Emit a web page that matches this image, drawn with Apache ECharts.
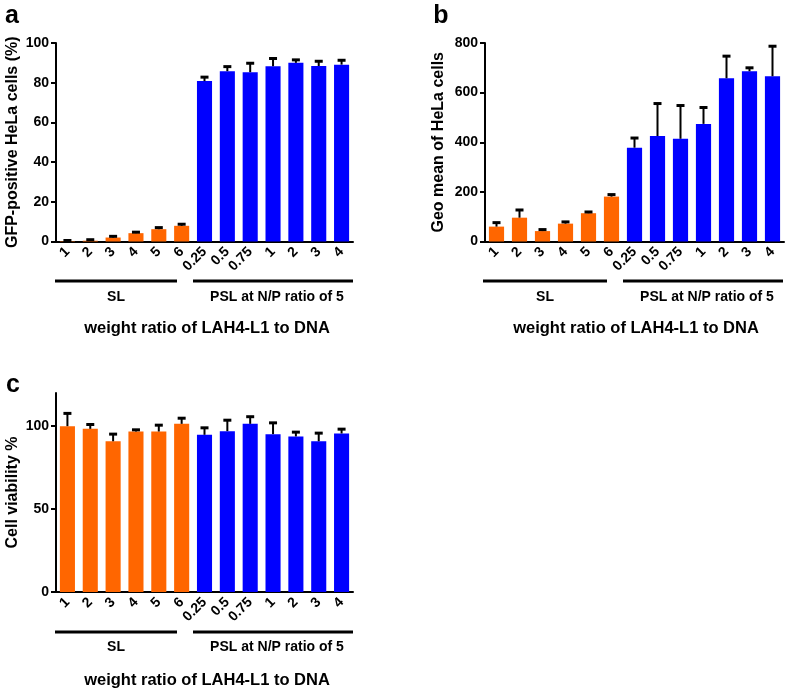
<!DOCTYPE html>
<html><head><meta charset="utf-8">
<script src="https://cdn.jsdelivr.net/npm/echarts@6/dist/echarts.min.js"></script>
<style>html,body{margin:0;padding:0;background:#fff}#c{width:787px;height:690px}</style>
</head><body><div id="c"></div>
<script>
const categories = ['1','2','3','4','5','6','0.25','0.5','0.75','1','2','3','4'];
const slCount = 6;
const gfpMean = [0.2, 0.4, 2.0, 4.2, 6.2, 7.9, 80.8, 85.8, 85.3, 88.3, 90.0, 88.4, 89.1];
const gfpErr  = [0.3, 0.5, 0.6, 0.5, 0.8, 0.8, 2.0, 2.3, 4.5, 3.9, 1.5, 2.4, 2.2];
const geoMean = [60, 96, 42, 72, 114, 181, 378, 425, 414, 474, 658, 686, 666];
const geoErr  = [16, 31, 6, 7, 5, 8, 39, 131, 134, 66, 89, 14, 121];
const viaMean = [100, 98.4, 90.9, 96.8, 96.8, 101.4, 94.8, 97, 101.4, 95.2, 93.8, 90.9, 95.6];
const viaErr  = [7.7, 2.6, 4.3, 1.0, 3.8, 3.4, 4.2, 6.6, 4.3, 6.8, 2.6, 4.9, 2.6];
const gfpTicks = [0, 20, 40, 60, 80, 100];
const geoTicks = [0, 200, 400, 600, 800];
const viaTicks = [0, 50, 100];

const FONT = 'Liberation Sans, Arial, Helvetica, sans-serif';
const ORANGE = '#FF6600', BLUE = '#0000FF';
const chart = echarts.init(document.getElementById('c'), null, {renderer:'canvas'});

function xAxis(gi){
  return {type:'category', gridIndex:gi, data:categories,
    axisLine:{lineStyle:{color:'#000', width:2}},
    axisTick:{alignWithLabel:true, length:5, lineStyle:{color:'#000', width:2}},
    axisLabel:{rotate:45, margin:8, color:'#000', fontWeight:'bold', fontSize:14, fontFamily:FONT, interval:0}};
}
function yAxis(gi, name, max, interval, ticks, gap){
  return {type:'value', gridIndex:gi, min:0, max:max, interval:interval, name:name,
    nameLocation:'middle', nameGap:gap, nameRotate:90,
    nameTextStyle:{color:'#000', fontWeight:'bold', fontSize:16, fontFamily:FONT},
    splitLine:{show:false},
    axisLine:{show:true, lineStyle:{color:'#000', width:2}},
    axisTick:{show:true, length:5, lineStyle:{color:'#000', width:2}, customValues:ticks},
    axisLabel:{margin:7, color:'#000', fontWeight:'bold', fontSize:14, fontFamily:FONT, customValues:ticks}};
}
function barSeries(i, vals){
  return {type:'bar', xAxisIndex:i, yAxisIndex:i, data:vals, barCategoryGap:'34%',
    itemStyle:{color:(p)=> p.dataIndex < slCount ? ORANGE : BLUE}};
}
function errSeries(i, vals, errs){
  return {type:'custom', xAxisIndex:i, yAxisIndex:i, z:3,
    data: vals.map((v,k)=>[k, v, v+errs[k]]),
    renderItem:function(params, api){
      const b = api.coord([api.value(0), api.value(1)]);
      const t = api.coord([api.value(0), api.value(2)]);
      return {type:'group', children:[
        {type:'line', shape:{x1:b[0], y1:b[1], x2:t[0], y2:t[1]}, style:{stroke:'#000', lineWidth:2}},
        {type:'line', shape:{x1:t[0]-4, y1:t[1], x2:t[0]+4, y2:t[1]}, style:{stroke:'#000', lineWidth:3}}
      ]};
    }};
}
function txt(x, y, s, size, align){
  return {type:'text', x:x, y:y, style:{text:s, fill:'#000', font:'bold '+size+'px '+FONT, textAlign:align||'center', textVerticalAlign:'middle'}};
}
function ln(x1, x2, y){
  return {type:'line', shape:{x1:x1, y1:y, x2:x2, y2:y}, style:{stroke:'#000', lineWidth:3}};
}
function groupAnn(dx, lineY, labY, titleY, slRange, pslRange){
  return [
    ln(slRange[0]+dx, slRange[1]+dx, lineY),
    ln(pslRange[0]+dx, pslRange[1]+dx, lineY),
    txt((slRange[0]+slRange[1])/2+dx, labY, 'SL', 14),
    txt((pslRange[0]+pslRange[1])/2+dx+4, labY, 'PSL at N/P ratio of 5', 14),
    txt((slRange[0]+pslRange[1])/2+dx+3, titleY, 'weight ratio of LAH4-L1 to DNA', 16.5)
  ];
}

const option = {
  animation:false,
  grid:[
    {left:56, top:43, width:297, height:198.5},
    {left:485, top:43, width:299, height:198.5},
    {left:56, top:393, width:297, height:199}
  ],
  xAxis:[xAxis(0), xAxis(1), xAxis(2)],
  yAxis:[
    yAxis(0, 'GFP-positive HeLa cells (%)', 100, 20, gfpTicks, 35),
    yAxis(1, 'Geo mean of HeLa cells', 800, 200, geoTicks, 38),
    yAxis(2, 'Cell viability %', 120, 50, viaTicks, 35)
  ],
  series:[
    barSeries(0, gfpMean), errSeries(0, gfpMean, gfpErr),
    barSeries(1, geoMean), errSeries(1, geoMean, geoErr),
    barSeries(2, viaMean), errSeries(2, viaMean, viaErr)
  ],
  graphic:[].concat(
    [txt(12, 16, 'a', 25), txt(441, 16, 'b', 25), txt(13, 385, 'c', 25)],
    groupAnn(0, 281, 297, 328, [55,177], [193,353]),
    groupAnn(428, 281, 297, 328, [55,179], [195,355]),
    groupAnn(0, 632, 647, 680, [55,177], [193,353])
  )
};
chart.setOption(option);
</script></body></html>
